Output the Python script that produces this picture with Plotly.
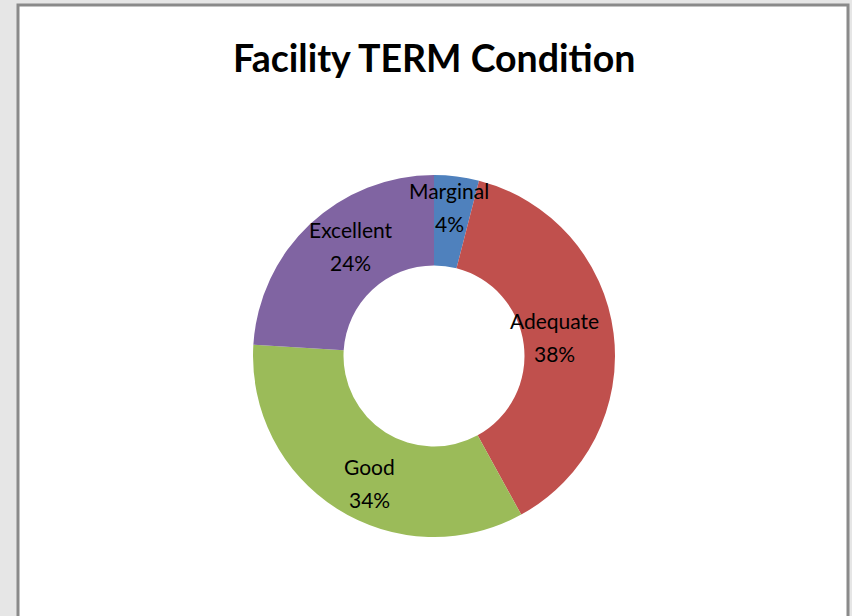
import math
import plotly.graph_objects as go

# ---- data ----
categories = ["Marginal", "Adequate", "Good", "Excellent"]
percent_values = [4, 38, 34, 24]
slice_colors = ["#4F81BD", "#C0504D", "#9BBB59", "#8064A2"]
title_text = "Facility TERM Condition"

W, H = 852, 616
# pie geometry (pixels)
cx, cy, R = 434, 356, 181
hole = 0.5
FONT = "Lato, Carlito, Calibri, sans-serif"

fig = go.Figure()
fig.add_trace(go.Pie(
    labels=categories,
    values=percent_values,
    sort=False,
    direction="clockwise",
    rotation=0,
    hole=hole,
    marker=dict(colors=slice_colors, line=dict(width=0)),
    textinfo="none",
    hoverinfo="label+percent",
    showlegend=False,
    domain=dict(x=[(cx - R) / W, (cx + R) / W],
                y=[(H - cy - R) / H, (H - cy + R) / H]),
))

# data labels placed mid-ring along each slice's mid-angle
total = sum(percent_values)
cum = 0
lrx, lry = 0.67 * R, 0.83 * R
line_gap = 16.5
annotations = []
for name, v in zip(categories, percent_values):
    mid = (cum + v / 2) / total * 2 * math.pi
    cum += v
    px = cx + lrx * math.sin(mid)
    py = cy - lry * math.cos(mid)
    pct = round(v / total * 100)
    for txt, dy in ((name, -line_gap), (f"{pct}%", line_gap)):
        annotations.append(dict(
            x=px / W, y=(H - (py + dy)) / H, xref="paper", yref="paper",
            text=txt, showarrow=False,
            font=dict(family=FONT, size=21, color="#000000"),
            xanchor="center", yanchor="middle",
        ))

annotations.append(dict(
    x=434 / W, y=(H - 58) / H, xref="paper", yref="paper",
    text=f"<b>{title_text}</b>", showarrow=False,
    font=dict(family=FONT, size=37.5, color="#000000"),
    xanchor="center", yanchor="middle",
))

fig.update_layout(
    width=W, height=H,
    margin=dict(l=0, r=0, t=0, b=0),
    paper_bgcolor="#e6e6e6",
    plot_bgcolor="#e6e6e6",
    xaxis=dict(visible=False), yaxis=dict(visible=False),
    annotations=annotations,
    shapes=[dict(type="rect", xref="paper", yref="paper", layer="below",
                 x0=18 / W, x1=848 / W, y0=-0.05, y1=(H - 5) / H,
                 line=dict(color="#8a8a8a", width=3), fillcolor="#ffffff")],
)

fig.write_html("out.html", config={"displayModeBar": False},
               post_script="document.body.style.margin='0';")
